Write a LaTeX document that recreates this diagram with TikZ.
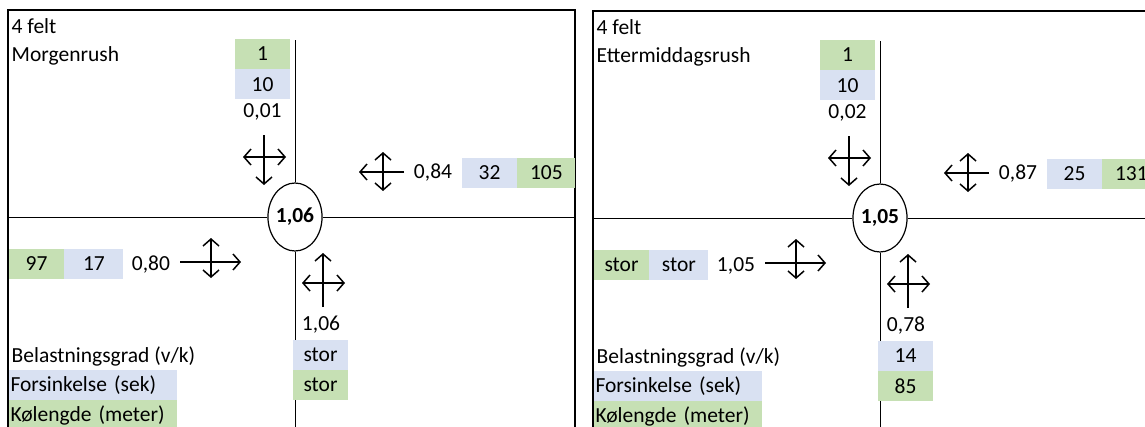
\documentclass[tikz,border=0pt]{standalone}
\usepackage{fontspec}
\setmainfont{Carlito}
\usepackage{xcolor}
\usepackage{tikz}
\usetikzlibrary{shapes.geometric, arrows.meta, positioning}

\definecolor{kgreen}{RGB}{198,224,180}
\definecolor{fblue}{RGB}{217,225,242}

\newcommand{\tabfont}{\fontsize{21.5}{25}\selectfont}

\tikzset{
  frame/.style  = {draw, line width=1.6pt},
  road/.style   = {draw, line width=1pt},
  hub/.style    = {ellipse, draw, line width=1.2pt, inner sep=0pt,
                   minimum width=54pt, minimum height=68pt,
                   font=\tabfont\bfseries},
  cell/.style   = {rectangle, inner sep=0pt, text centered,
                   minimum width=55pt, minimum height=30pt},
  val/.style    = {inner sep=1pt, text centered},
  lbl/.style    = {inner sep=1.5pt, anchor=west},
  legend/.style = {rectangle, inner ysep=0pt, inner xsep=1.5pt,
                   text width=165pt, align=left, minimum height=30pt},
  mv/.style     = {line width=1.5pt,
                   >={Straight Barb[length=7pt, width=16pt]}},
}

\begin{document}
\begin{tikzpicture}[x=1pt, y=-1pt, font=\tabfont]

\clip (0,0) rectangle (1145,426);

% ── Morgenrush ───────────────────────────────────────────
\draw[frame] (8,440) |- (575,10) -- (575,440);

\node[lbl] (m-felt) at (10,26) {4 felt};
\node[lbl] (m-tid)  at (10,56) {Morgenrush};

% crossing
\node[hub] (m-hub) at (295,217) {1,06};
\coordinate (m-n-end) at (295,40);
\coordinate (m-s-end) at (295,440);
\coordinate (m-w-end) at (8,217);
\coordinate (m-e-end) at (575,217);
\draw[road] (m-hub) -- (m-n-end);
\draw[road] (m-hub) -- (m-s-end);
\draw[road] (m-hub) -- (m-w-end);
\draw[road] (m-hub) -- (m-e-end);

% north arm
\node[cell, fill=kgreen] (m-n-kl) at (262.5,54) {1};
\node[cell, fill=fblue, below=0pt of m-n-kl] (m-n-fs) {10};
\node[val, below=3pt of m-n-fs] (m-n-vk) {0,01};
\coordinate (m-n-mv) at (264,157);
\draw[mv, ->]  (m-n-mv) ++(0,-22) -- ++(0,50);
\draw[mv, <->] (m-n-mv) ++(-21,0) -- ++(43,0);

% east arm
\coordinate (m-e-mv) at (383,172);
\draw[mv, ->]  (m-e-mv) ++(21,0) -- ++(-45,0);
\draw[mv, <->] (m-e-mv) ++(0,-20) -- ++(0,39);
\node[val] (m-e-vk) at (433,173) {0,84};
\node[cell, fill=fblue] (m-e-fs) at (489.5,172.5) {32};
\node[cell, fill=kgreen, minimum width=58pt, right=0pt of m-e-fs] (m-e-kl) {105};

% west arm
\node[cell, fill=kgreen] (m-w-kl) at (36.5,263.5) {97};
\node[cell, fill=fblue, minimum width=59pt, right=0pt of m-w-kl] (m-w-fs) {17};
\node[val] (m-w-vk) at (151,265) {0,80};
\coordinate (m-w-mv) at (211,262);
\draw[mv, ->]  (m-w-mv) ++(-31,0) -- ++(61,0);
\draw[mv, <->] (m-w-mv) ++(0,-24) -- ++(0,40);

% south arm
\coordinate (m-s-mv) at (323,283);
\draw[mv, ->]  (m-s-mv) ++(0,24) -- ++(0,-54);
\draw[mv, <->] (m-s-mv) ++(-21,0) -- ++(43,0);
\node[val] (m-s-vk) at (321,325) {1,06};
\node[cell, fill=fblue] (m-s-fs) at (320.5,354.5) {stor};
\node[cell, fill=kgreen, below=0pt of m-s-fs] (m-s-kl) {stor};

% legend
\node[lbl] (m-lg-vk) at (10,356) {Belastningsgrad (v/k)};
\node[legend, fill=fblue] (m-lg-fs) at (93,385) {Forsinkelse (sek)};
\node[legend, fill=kgreen, below=0pt of m-lg-fs] (m-lg-kl) {Kølengde (meter)};

% ── Ettermiddagsrush ─────────────────────────────────────
\begin{scope}[xshift=585pt, yshift=-1pt]
\draw[frame] (8,440) |- (575,10) -- (575,440);

\node[lbl] (e-felt) at (10,26) {4 felt};
\node[lbl] (e-tid)  at (10,56) {Ettermiddagsrush};

% crossing
\node[hub] (e-hub) at (295,217) {1,05};
\coordinate (e-n-end) at (295,40);
\coordinate (e-s-end) at (295,440);
\coordinate (e-w-end) at (8,217);
\coordinate (e-e-end) at (575,217);
\draw[road] (e-hub) -- (e-n-end);
\draw[road] (e-hub) -- (e-s-end);
\draw[road] (e-hub) -- (e-w-end);
\draw[road] (e-hub) -- (e-e-end);

% north arm
\node[cell, fill=kgreen] (e-n-kl) at (262.5,54) {1};
\node[cell, fill=fblue, below=0pt of e-n-kl] (e-n-fs) {10};
\node[val, below=3pt of e-n-fs] (e-n-vk) {0,02};
\coordinate (e-n-mv) at (264,157);
\draw[mv, ->]  (e-n-mv) ++(0,-22) -- ++(0,50);
\draw[mv, <->] (e-n-mv) ++(-21,0) -- ++(43,0);

% east arm
\coordinate (e-e-mv) at (383,172);
\draw[mv, ->]  (e-e-mv) ++(21,0) -- ++(-45,0);
\draw[mv, <->] (e-e-mv) ++(0,-20) -- ++(0,39);
\node[val] (e-e-vk) at (433,173) {0,87};
\node[cell, fill=fblue] (e-e-fs) at (489.5,172.5) {25};
\node[cell, fill=kgreen, minimum width=58pt, right=0pt of e-e-fs] (e-e-kl) {131};

% west arm
\node[cell, fill=kgreen] (e-w-kl) at (36.5,263.5) {stor};
\node[cell, fill=fblue, minimum width=59pt, right=0pt of e-w-kl] (e-w-fs) {stor};
\node[val] (e-w-vk) at (151,265) {1,05};
\coordinate (e-w-mv) at (211,262);
\draw[mv, ->]  (e-w-mv) ++(-31,0) -- ++(61,0);
\draw[mv, <->] (e-w-mv) ++(0,-24) -- ++(0,40);

% south arm
\coordinate (e-s-mv) at (323,283);
\draw[mv, ->]  (e-s-mv) ++(0,24) -- ++(0,-54);
\draw[mv, <->] (e-s-mv) ++(-21,0) -- ++(43,0);
\node[val] (e-s-vk) at (321,325) {0,78};
\node[cell, fill=fblue] (e-s-fs) at (320.5,354.5) {14};
\node[cell, fill=kgreen, below=0pt of e-s-fs] (e-s-kl) {85};

% legend
\node[lbl] (e-lg-vk) at (10,356) {Belastningsgrad (v/k)};
\node[legend, fill=fblue] (e-lg-fs) at (93,385) {Forsinkelse (sek)};
\node[legend, fill=kgreen, below=0pt of e-lg-fs] (e-lg-kl) {Kølengde (meter)};
\end{scope}

\end{tikzpicture}
\end{document}
